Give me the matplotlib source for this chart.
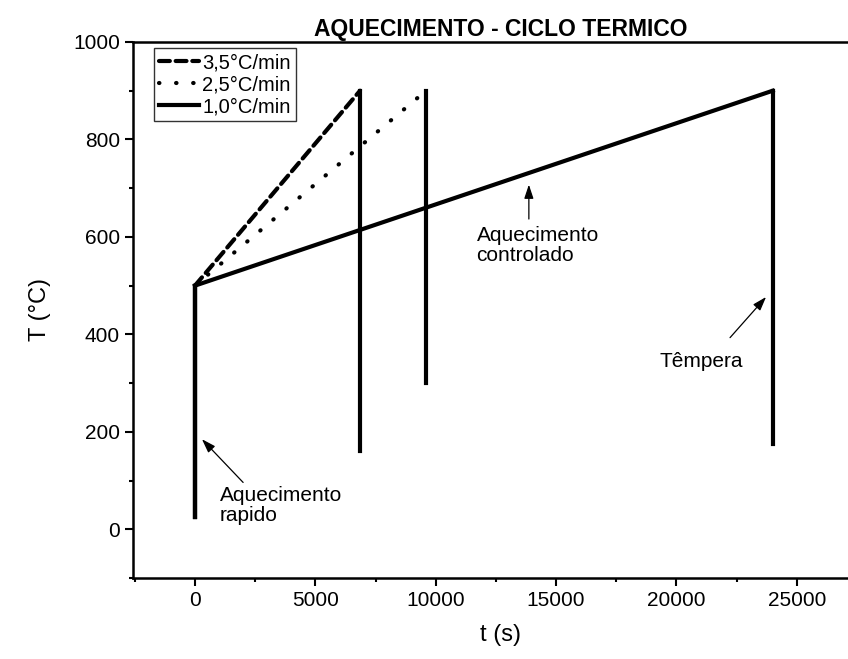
import matplotlib
matplotlib.use("Agg", force=True)
import matplotlib.pyplot as plt

plt.rcParams["font.family"] = ["Liberation Sans", "DejaVu Sans"]

# heating cycles: rapid heating to 500 °C, controlled ramp to 900 °C, then quench
labels = ["3,5°C/min", "2,5°C/min", "1,0°C/min"]
t_35 = [0, 0, 6857, 6857]
T_35 = [25, 500, 900, 160]
t_25 = [0, 0, 9600, 9600]
T_25 = [25, 500, 900, 300]
t_10 = [0, 0, 24000, 24000]
T_10 = [25, 500, 900, 175]

x_ticks = [0, 5000, 10000, 15000, 20000, 25000]
y_ticks = [0, 200, 400, 600, 800, 1000]

fig = plt.figure(figsize=(8.48, 6.59), dpi=100)
ax = fig.add_axes([0.1568, 0.1229, 0.868, 0.8134])

styles = [(0, (2.6, 1.4)), (0, (0.1, 4.0)), "-"]
for t, T, ls, lab in zip([t_35, t_25, t_10], [T_35, T_25, T_10], styles, labels):
    # rapid heating and quench drops are drawn solid, the ramp in the series style
    ax.plot(t[:2], T[:2], color="black", lw=3)
    ax.plot(t[1:3], T[1:3], color="black", lw=3, ls=ls, dash_capstyle="round",
            label=lab)
    ax.plot(t[2:], T[2:], color="black", lw=3)

ax.set_xlim(-2575, 28000)
ax.set_ylim(-100, 1000)
ax.set_xticks(x_ticks)
ax.set_yticks(y_ticks)
ax.set_xticks(range(-2500, 28000, 5000), minor=True)
ax.set_yticks(range(-100, 1000, 200), minor=True)
ax.tick_params(which="major", direction="out", length=6, width=1.5, labelsize=15)
ax.tick_params(which="minor", direction="out", length=3, width=1.5)
ax.tick_params(top=False, right=False, which="both")
for side in ["left", "bottom", "top"]:
    ax.spines[side].set_linewidth(1.8)
ax.spines["right"].set_visible(False)

ax.set_xlabel("t (s)", fontsize=17, labelpad=10)
ax.set_ylabel("T (°C)", fontsize=17, labelpad=16)
ax.set_title("AQUECIMENTO - CICLO TERMICO", fontsize=16.5, fontweight="bold", pad=4)

leg = ax.legend(loc="upper left", fontsize=14.5, frameon=True, fancybox=False,
                edgecolor="black", handlelength=2.0, handletextpad=0.15,
                borderpad=0.25, labelspacing=0.15, borderaxespad=0.3,
                bbox_to_anchor=(0.02, 1.0))
leg.get_frame().set_linewidth(1.0)

arrow = dict(arrowstyle="-|>,head_length=0.6,head_width=0.2", color="black",
             lw=0.9, mutation_scale=14)
ax.annotate("", xy=(13870, 713), xytext=(13870, 631), arrowprops=arrow)
ax.text(11700, 622, "Aquecimento\ncontrolado", fontsize=15, va="top", ha="left",
        linespacing=1.05)
ax.annotate("", xy=(23800, 481), xytext=(22150, 389), arrowprops=arrow)
ax.text(19300, 344, "Têmpera", fontsize=15, va="center", ha="left")
ax.annotate("", xy=(210, 189), xytext=(2080, 92), arrowprops=arrow)
ax.text(1040, 88, "Aquecimento\nrapido", fontsize=15, va="top", ha="left",
        linespacing=1.05)

fig.savefig("out.png", dpi=100)
